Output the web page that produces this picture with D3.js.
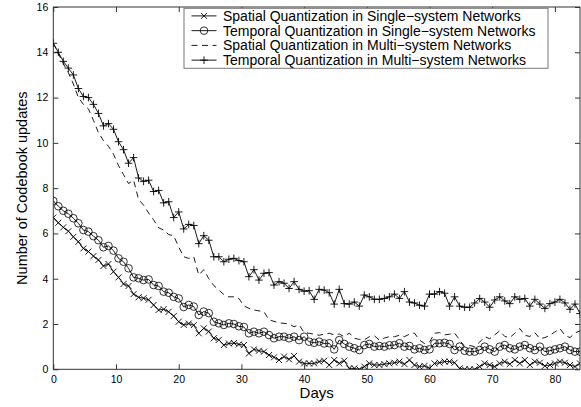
<!DOCTYPE html>
<html>
<head>
<meta charset="utf-8">
<script src="https://cdn.jsdelivr.net/npm/d3@7"></script>
<style>
  body { margin: 0; background: #fff; }
  svg { display: block; font-family: "Liberation Sans", Arial, sans-serif; }
</style>
</head>
<body>
<div id="chart"></div>
<script>
// samples are every 0.8 day, from day 0 to day 84
const days = d3.range(106).map(i => +(i * 0.8).toFixed(1));

const spatialSingle = [
  6.7, 6.47, 6.27, 6.1, 5.85, 5.63, 5.34, 5.2, 5.0, 4.83,
  4.56, 4.65, 4.31, 4.06, 3.77, 3.68, 3.32, 3.18, 3.14, 3.07,
  2.84, 2.62, 2.65, 2.54, 2.35, 2.1, 1.96, 2.02, 1.95, 1.59,
  1.81, 1.67, 1.37, 1.3, 1.07, 1.14, 1.16, 1.1, 1.07, 0.7,
  0.88, 0.82, 0.78, 0.63,
  0.53, 0.41, 0.56, 0.44, 0.59, 0.34, 0.26, 0.26, 0.26, 0.34,
  0.38, 0.19, 0.41, 0.26, 0.38, 0.04, 0.04, 0.0, 0.12, 0.26,
  0.19, 0.19, 0.23, 0.26, 0.29, 0.34, 0.23, 0.41, 0.19, 0.12,
  0.15, 0.04, 0.26, 0.29, 0.34, 0.34, 0.29, 0.04, 0.0, 0.0,
  0.0, 0.12, 0.26, 0.19, 0.12, 0.26, 0.34, 0.23, 0.41, 0.26,
  0.41, 0.19, 0.34, 0.29, 0.15, 0.19, 0.26, 0.34, 0.29, 0.19,
  0.12, 0.26
];

const temporalSingle = [
  7.44, 7.2, 7.0, 6.87, 6.67, 6.45, 6.15, 6.08, 5.88, 5.7,
  5.39, 5.45, 5.24, 4.9, 4.75, 4.46, 4.06, 4.02, 3.94, 3.97,
  3.72, 3.68, 3.43, 3.38, 3.2, 3.13, 2.75, 2.84, 2.77, 2.4,
  2.55, 2.48, 2.1, 2.03, 1.96, 2.03, 2.0, 1.9, 1.87, 1.59,
  1.66, 1.59, 1.66, 1.51, 1.37, 1.44, 1.44, 1.37, 1.44, 1.29,
  1.44, 1.22, 1.17, 1.22, 1.14,
  1.15, 0.88, 1.29, 1.12, 1.0, 0.93, 0.85, 1.07, 1.12, 1.0,
  1.03, 1.0, 1.06, 1.07, 1.15, 1.0, 1.03, 0.88, 0.93, 0.85,
  0.88, 1.15, 1.15, 1.17, 1.12, 0.85, 1.0, 0.82, 0.78, 0.78,
  0.85, 1.0, 0.88, 0.78, 1.0, 1.07, 0.93, 0.88, 1.0, 1.07,
  0.93, 0.85, 1.0, 0.78, 0.82, 0.88, 0.93, 1.0, 0.85, 0.78,
  0.78
];

const spatialMulti = [
  14.4, 13.95, 13.5, 13.1, 12.6, 12.0, 11.7, 11.5, 11.0, 10.45,
  10.1, 9.85, 9.5, 9.0, 8.6, 8.2, 8.36, 7.5, 7.25, 6.9,
  6.6, 6.25, 6.15, 5.95, 5.9, 5.4, 4.97, 4.9, 4.97, 4.16,
  4.4, 4.0, 3.7, 3.5, 3.3, 3.2, 3.2, 3.13, 2.8, 2.69,
  2.62, 2.58, 2.54, 2.18, 2.12, 2.05, 2.03, 2.0, 1.88, 1.96,
  1.62, 1.59, 1.55, 1.5, 1.56, 1.59, 1.52, 1.56, 1.44, 1.6,
  1.37, 1.32, 1.3, 1.44, 1.48, 1.29, 1.38, 1.44, 1.44, 1.5,
  1.44, 1.55, 1.6, 1.29, 1.14, 1.2, 1.59, 1.62, 1.52, 1.55,
  1.6, 1.3, 1.0, 1.05, 1.0, 1.2, 1.44, 1.35, 1.52, 1.7,
  1.45, 1.4, 1.59, 1.8, 1.5, 1.45, 1.62, 1.35, 1.4, 1.5,
  1.65, 1.8, 1.5, 1.4, 1.6, 1.7
];

const temporalMulti = [
  14.4, 14.0, 13.6, 13.3, 13.0, 12.4, 12.05, 12.0, 11.7, 11.3,
  10.75, 10.85, 10.6, 10.05, 9.7, 9.1, 9.35, 8.45, 8.3, 8.35,
  7.85, 7.9, 7.35, 7.4, 6.7, 6.95, 6.2, 6.4, 6.35, 5.55,
  5.9, 5.7, 4.97, 4.97, 4.75, 4.86, 4.9, 4.8, 4.75, 4.09,
  4.4, 3.94, 4.24, 4.27, 3.72, 3.87, 3.8, 3.57, 3.87, 3.53,
  3.45, 3.47, 3.09, 3.53, 3.5, 3.38, 2.88, 3.53, 2.9, 2.88,
  2.97, 2.79, 3.28, 3.2, 3.09, 3.09, 3.13, 3.2, 3.32, 3.13,
  3.43, 2.97, 2.93, 2.83, 2.79, 3.32, 3.32, 3.43, 3.36, 2.79,
  3.2, 2.79, 2.74, 2.74, 2.93, 3.13, 2.97, 2.74, 3.06, 3.2,
  3.02, 2.9, 3.2, 3.09, 3.13, 2.79, 3.09, 2.88, 2.69, 2.9,
  2.97, 3.09, 2.93, 2.65, 2.88, 2.46
];

const seriesNames = [
  "Spatial Quantization in Single\u2212system Networks",
  "Temporal Quantization in Single\u2212system Networks",
  "Spatial Quantization in Multi\u2212system Networks",
  "Temporal Quantization in Multi\u2212system Networks"
];
const xTicks = [0, 10, 20, 30, 40, 50, 60, 70, 80];
const yTicks = [0, 2, 4, 6, 8, 10, 12, 14, 16];

const width = 581, height = 407;
const plotLeft = 53.3, plotRight = 580, plotTop = 7, plotBottom = 369.3;

const series = [
  { name: seriesNames[0], values: spatialSingle, marker: "x", dash: null },
  { name: seriesNames[1], values: temporalSingle, marker: "o", dash: null },
  { name: seriesNames[2], values: spatialMulti, marker: null, dash: "6,4.5" },
  { name: seriesNames[3], values: temporalMulti, marker: "+", dash: null }
];

const x = d3.scaleLinear().domain([0, 84]).range([plotLeft, plotRight]);
const y = d3.scaleLinear().domain([0, 16]).range([plotBottom, plotTop]);

const svg = d3.select("#chart").append("svg")
    .attr("width", width)
    .attr("height", height);

svg.append("defs").append("clipPath").attr("id", "plot")
  .append("rect")
    .attr("x", plotLeft).attr("y", plotTop)
    .attr("width", plotRight - plotLeft).attr("height", plotBottom - plotTop);

// axes, ticks pointing inward like the original
const axisColor = "#333";
function styleAxis(g) {
  g.select(".domain").remove();
  g.selectAll(".tick line").attr("stroke", axisColor);
  g.selectAll(".tick text").attr("fill", "#000").attr("font-size", 10.5);
}

svg.append("g")
    .attr("transform", `translate(0,${plotBottom})`)
    .call(d3.axisBottom(x).tickValues(xTicks).tickSizeInner(-5).tickSizeOuter(0).tickPadding(6))
    .call(styleAxis);

svg.append("g")
    .attr("transform", `translate(0,${plotTop})`)
    .call(d3.axisTop(x).tickValues(xTicks).tickSizeInner(-5).tickSizeOuter(0).tickFormat(""))
    .call(styleAxis);

svg.append("g")
    .attr("transform", `translate(${plotLeft},0)`)
    .call(d3.axisLeft(y).tickValues(yTicks).tickSizeInner(-5).tickSizeOuter(0).tickPadding(5))
    .call(styleAxis);

svg.append("g")
    .attr("transform", `translate(${plotRight},0)`)
    .call(d3.axisRight(y).tickValues(yTicks).tickSizeInner(-5).tickSizeOuter(0).tickFormat(""))
    .call(styleAxis);

svg.append("rect")
    .attr("x", plotLeft).attr("y", plotTop)
    .attr("width", plotRight - plotLeft).attr("height", plotBottom - plotTop)
    .attr("fill", "none")
    .attr("stroke", axisColor)
    .attr("stroke-width", 1);

// axis titles
svg.append("text")
    .attr("x", (plotLeft + plotRight) / 2)
    .attr("y", 398)
    .attr("text-anchor", "middle")
    .attr("font-size", 15)
    .text("Days");

svg.append("text")
    .attr("transform", `translate(27,${(plotTop + plotBottom) / 2}) rotate(-90)`)
    .attr("text-anchor", "middle")
    .attr("font-size", 14.5)
    .text("Number of Codebook updates");

// markers
function drawMarker(g, type, cx, cy) {
  if (type === "x") {
    g.append("path")
        .attr("d", `M${cx - 3},${cy - 3}L${cx + 3},${cy + 3}M${cx - 3},${cy + 3}L${cx + 3},${cy - 3}`)
        .attr("stroke", "#000").attr("stroke-width", 0.9).attr("fill", "none");
  } else if (type === "o") {
    g.append("circle")
        .attr("cx", cx).attr("cy", cy).attr("r", 3.8)
        .attr("stroke", "#000").attr("stroke-width", 0.8).attr("fill", "none");
  } else if (type === "+") {
    g.append("path")
        .attr("d", `M${cx - 3.8},${cy}H${cx + 3.8}M${cx},${cy - 3.8}V${cy + 3.8}`)
        .attr("stroke", "#000").attr("stroke-width", 0.9).attr("fill", "none");
  }
}

const line = d3.line()
    .x((d, i) => x(days[i]))
    .y(d => y(d));

const plot = svg.append("g").attr("clip-path", "url(#plot)");

series.forEach(s => {
  plot.append("path")
      .datum(s.values)
      .attr("d", line)
      .attr("fill", "none")
      .attr("stroke", "#000")
      .attr("stroke-width", 0.9)
      .attr("stroke-dasharray", s.dash);
  if (s.marker) {
    const mg = plot.append("g");
    s.values.forEach((v, i) => drawMarker(mg, s.marker, x(days[i]), y(v)));
  }
});

// legend
const lx = 184, ly = 8.3, lw = 364, lh = 60;
const legend = svg.append("g");
legend.append("rect")
    .attr("x", lx).attr("y", ly)
    .attr("width", lw).attr("height", lh)
    .attr("fill", "#fff")
    .attr("stroke", "#777")
    .attr("stroke-width", 1);

series.forEach((s, i) => {
  const yy = ly + 7.6 + i * 14.75;
  legend.append("line")
      .attr("x1", lx + 7.5).attr("x2", lx + 32.5)
      .attr("y1", yy).attr("y2", yy)
      .attr("stroke", "#000")
      .attr("stroke-width", 0.9)
      .attr("stroke-dasharray", s.dash);
  if (s.marker) drawMarker(legend, s.marker, lx + 20, yy);
  legend.append("text")
      .attr("x", lx + 39)
      .attr("y", yy)
      .attr("dy", "0.36em")
      .attr("font-size", 14)
      .text(s.name);
});
</script>
</body>
</html>
